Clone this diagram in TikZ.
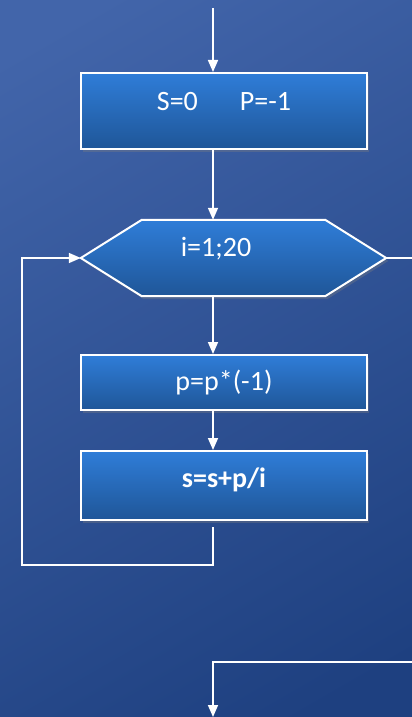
\documentclass[tikz,border=0pt]{standalone}
\usepackage{fontspec}
\setmainfont{Carlito}
\usetikzlibrary{arrows.meta,calc,shadows,positioning}

\definecolor{bgtop}{RGB}{66,101,170}
\definecolor{bgbot}{RGB}{30,64,128}
\definecolor{boxtop}{RGB}{47,125,216}
\definecolor{boxbot}{RGB}{31,86,152}

\begin{document}
\begin{tikzpicture}[x=1pt, y=-1pt, line join=miter,
    flowbox/.style={draw=white, line width=2pt, top color=boxtop, bottom color=boxbot,
      minimum width=286pt, inner sep=0pt, text=white,
      font=\fontsize{28}{32}\selectfont,
      drop shadow={opacity=0.35, shadow xshift=2pt, shadow yshift=-3pt}},
    flowline/.style={white, line width=1.6pt},
    flowarrow/.style={flowline, -{Triangle[width=10pt,length=12pt]}}]
  
  % Background
  \useasboundingbox (0,0) rectangle (412,717);
  \shade[top color=bgtop, bottom color=bgbot, shading angle=30] (-60,-60) rectangle (472,777);
  
  % Boxes
  \node[flowbox, minimum height=76pt, text height=20pt, text depth=22pt] (init) at (224,111) {S=0\hspace{42pt}P=-1};
  
  \node[minimum width=305pt, minimum height=76pt, inner sep=0pt] (hex) at (233.5,258) {};
  \shade[draw=white, line width=2pt, top color=boxtop, bottom color=boxbot,
      drop shadow={opacity=0.35, shadow xshift=2pt, shadow yshift=-3pt}]
    (hex.west) -- ($(hex.north west)+(61,0)$) -- ($(hex.north east)+(-61,0)$)
    -- (hex.east) -- ($(hex.south east)+(-61,0)$) -- ($(hex.south west)+(61,0)$) -- cycle;
  \node[anchor=base, text=white, font=\fontsize{28}{32}\selectfont] (hextext) at (216,256) {i=1;20};
  
  \node[flowbox, minimum height=55pt, text height=21pt, text depth=6pt] (sign) at (224,382.5) {p=p*(-1)};
  \node[flowbox, minimum height=69pt, text height=20pt, text depth=17pt,
      font=\fontsize{28}{32}\selectfont\bfseries] (sum) at (224,485.5) {s=s+p/i};
  
  % Main line
  \coordinate (start) at (213,8);
  \draw[flowarrow] (start) -- (start |- init.north);
  \draw[flowarrow] (start |- init.south) -- (start |- hex.north);
  \draw[flowarrow] (start |- hex.south) -- (start |- sign.north);
  \draw[flowarrow] (start |- sign.south) -- (start |- sum.north);
  
  % Loop back to the cycle head
  \coordinate (loopbot) at (22,565);
  \draw[flowarrow, shorten <=6pt] (start |- sum.south) |- (loopbot) |- (hex.west);
  
  % Exit of the cycle
  \coordinate (exitR) at (412,258);
  \draw[flowline] (hex.east) -- (exitR);
  \coordinate (backR) at (412,662);
  \coordinate (endpt) at (213,717);
  \draw[flowarrow] (backR) -| (endpt);
\end{tikzpicture}
\end{document}
